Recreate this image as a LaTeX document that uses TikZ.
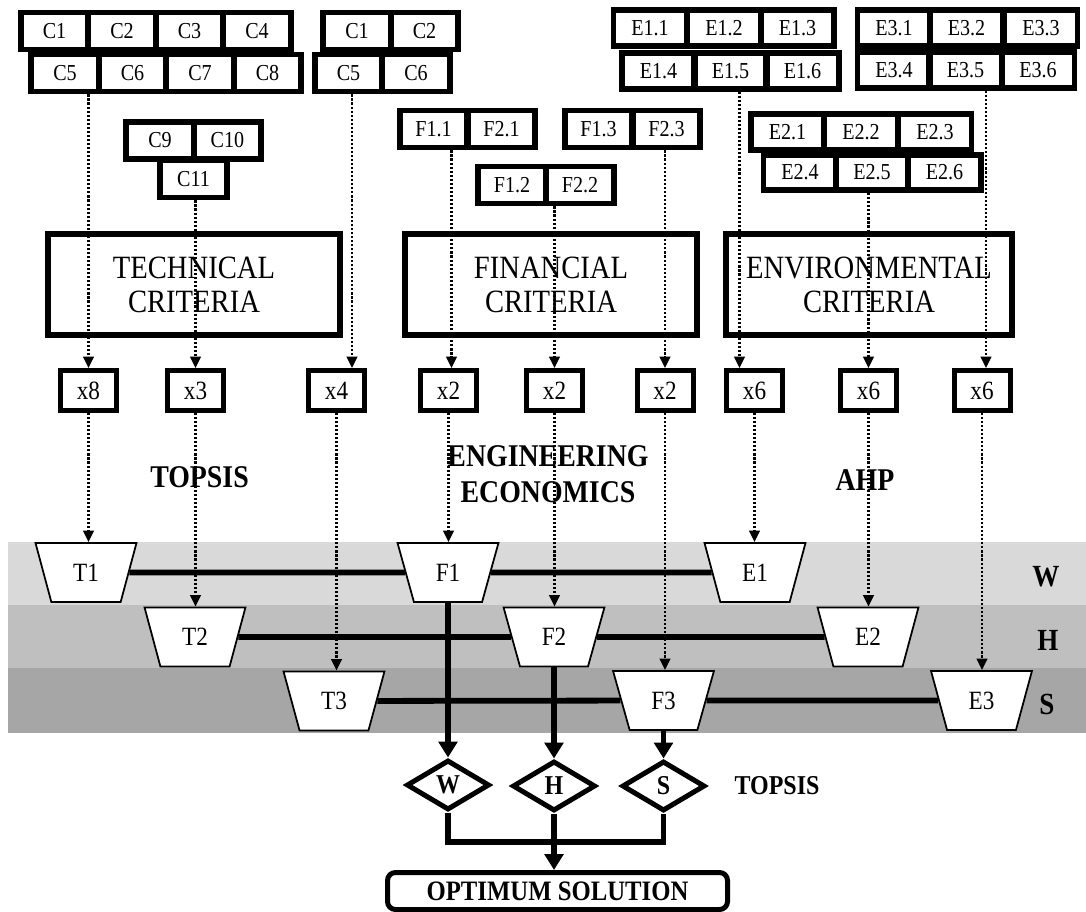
\documentclass[tikz,border=0pt]{standalone}
\usepackage{fontspec}
\setmainfont{Liberation Serif}[FakeStretch=0.88]
\usetikzlibrary{shapes.geometric,arrows.meta}
\newdimen\PX \PX=0.02cm
\definecolor{bandW}{RGB}{217,217,217}
\definecolor{bandH}{RGB}{191,191,191}
\definecolor{bandS}{RGB}{166,166,166}
\begin{document}
\begin{tikzpicture}[x=0.02cm,y=-0.02cm,
 cell/.style={draw, line width=5.8*\PX, minimum width=67.5*\PX, minimum height=37*\PX, inner sep=0pt, font=\fontsize{13}{15}\selectfont},
 ecell/.style={cell, minimum width=73*\PX, minimum height=35.5*\PX},
 xbox/.style={draw, line width=5*\PX, minimum width=56*\PX, minimum height=40*\PX, inner sep=0pt, font=\fontsize{15}{17}\selectfont},
 critbox/.style={draw, line width=6*\PX, minimum width=292*\PX, minimum height=101*\PX, align=center, inner sep=0pt, font=\fontsize{18.5}{19.5}\selectfont},
 trap/.style={trapezium, trapezium stretches=true, shape border rotate=180, trapezium left angle=71.3, trapezium right angle=71.3, minimum width=101*\PX, minimum height=59*\PX, draw, fill=white, line width=1pt, inner sep=0pt, font=\fontsize{15}{17}\selectfont},
 dia/.style={diamond, draw, fill=white, line width=5*\PX, minimum width=83*\PX, minimum height=50*\PX, inner sep=0pt, font=\bfseries\fontsize{15.5}{17}\selectfont},
 lab/.style={font=\bfseries\fontsize{18}{20.5}\selectfont, align=center, inner sep=0pt},
 optbox/.style={draw, rounded corners=8*\PX, line width=5*\PX, minimum width=340*\PX, minimum height=37*\PX, inner sep=0pt, font=\bfseries\fontsize{16}{18}\selectfont},
 dotarrow/.style={line width=1.3pt, dash pattern=on 1.2pt off 1.1pt, -{Triangle[length=6.5pt,width=6pt]}},
 thickline/.style={line width=3.3pt},
 thickarrow/.style={thickline, -{Triangle[length=9pt,width=10.5pt]}}
]
\useasboundingbox (0,0) rectangle (1086,912);
% bands
\fill[bandW] (8,542) rectangle (1086,605);
\fill[bandH] (8,605) rectangle (1086,668);
\fill[bandS] (8,668) rectangle (1086,733);
% technical cells
\node[cell] (C1) at (54.5,31) {C1};
\node[cell] (C2) at (122,31) {C2};
\node[cell] (C3) at (189.5,31) {C3};
\node[cell] (C4) at (257,31) {C4};
\node[cell] (C5) at (65,73) {C5};
\node[cell] (C6) at (132.5,73) {C6};
\node[cell] (C7) at (200,73) {C7};
\node[cell] (C8) at (267.5,73) {C8};
\node[cell] (C1b) at (357,31) {C1};
\node[cell] (C2b) at (424.5,31) {C2};
\node[cell] (C5b) at (348.5,73) {C5};
\node[cell] (C6b) at (416,73) {C6};
\node[cell] (C9) at (160,140.5) {C9};
\node[cell] (C10) at (227.5,140.5) {C10};
\node[cell] (C11) at (193.5,179) {C11};
% financial cells
\node[cell] (F11) at (433.5,129) {F1.1};
\node[cell] (F21) at (501.5,129) {F2.1};
\node[cell] (F13) at (598.5,129) {F1.3};
\node[cell] (F23) at (666.5,129) {F2.3};
\node[cell] (F12) at (512,185) {F1.2};
\node[cell] (F22) at (580,185) {F2.2};
% environmental cells
\node[ecell] (E11) at (650,28) {E1.1};
\node[ecell] (E12) at (724,28) {E1.2};
\node[ecell] (E13) at (797.5,28) {E1.3};
\node[ecell] (E14) at (658.5,71) {E1.4};
\node[ecell] (E15) at (730.5,71) {E1.5};
\node[ecell] (E16) at (802.5,71) {E1.6};
\node[ecell] (E31) at (894,28) {E3.1};
\node[ecell] (E32) at (966.5,28) {E3.2};
\node[ecell] (E33) at (1041,28) {E3.3};
\node[ecell] (E34) at (894,70) {E3.4};
\node[ecell] (E35) at (965.5,70) {E3.5};
\node[ecell] (E36) at (1038,70) {E3.6};
\node[ecell] (E21) at (787.5,132) {E2.1};
\node[ecell] (E22) at (861,132) {E2.2};
\node[ecell] (E23) at (935,132) {E2.3};
\node[ecell] (E24) at (800,172.5) {E2.4};
\node[ecell] (E25) at (872,172.5) {E2.5};
\node[ecell] (E26) at (944.5,172.5) {E2.6};
% criteria
\node[critbox] (tech) at (194,285) {TECHNICAL\\CRITERIA};
\node[critbox] (fin) at (551,285) {FINANCIAL\\CRITERIA};
\node[critbox, minimum width=286*\PX] (env) at (869,285) {ENVIRONMENTAL\\CRITERIA};
% multiplier boxes
\node[xbox] (x8) at (88.5,390.5) {x8};
\node[xbox] (x3) at (195.5,390.5) {x3};
\node[xbox] (x4) at (336.5,390.5) {x4};
\node[xbox] (x2a) at (448.5,390.5) {x2};
\node[xbox] (x2b) at (554.5,390.5) {x2};
\node[xbox] (x2c) at (665,390.5) {x2};
\node[xbox] (x6a) at (754.5,390.5) {x6};
\node[xbox] (x6b) at (868.5,390.5) {x6};
\node[xbox] (x6c) at (982,390.5) {x6};
% method labels
\node[lab] (topsisA) at (199.5,477) {TOPSIS};
\node[lab] (engec) at (548,474) {ENGINEERING\\ECONOMICS};
\node[lab] (ahp) at (865,480) {AHP};
% trapezoids
\node[trap] (T1) at (86,572.5) {T1};
\node[trap] (F1) at (448,572.5) {F1};
\node[trap] (E1) at (755,572.5) {E1};
\node[trap] (T2) at (195,637) {T2};
\node[trap] (F2) at (554,637) {F2};
\node[trap] (E2) at (868,637) {E2};
\node[trap] (T3) at (334,701) {T3};
\node[trap] (F3) at (663.5,700.5) {F3};
\node[trap] (E3) at (981.5,700.5) {E3};
% band labels
\node[lab, font=\bfseries\fontsize{17.5}{20}\selectfont] (bW) at (1046,577) {W};
\node[lab, font=\bfseries\fontsize{17.5}{20}\selectfont] (bH) at (1048,640) {H};
\node[lab, font=\bfseries\fontsize{17.5}{20}\selectfont] (bS) at (1047,704) {S};
% diamonds
\node[dia] (Wd) at (448,785) {W};
\node[dia] (Hd) at (554,786) {H};
\node[dia] (Sd) at (663.5,786) {S};
\node[lab, font=\bfseries\fontsize{15.5}{17}\selectfont] (topsisB) at (777,786) {TOPSIS};
\node[optbox] (opt) at (557.5,891) {OPTIMUM SOLUTION};
% horizontal thick lines
\draw[thickline] (T1) -- (F1) (F1) -- (E1);
\draw[thickline] (T2) -- (F2) (F2) -- (E2);
\draw[thickline] (T3) -- (F3) (F3) -- (E3);
% vertical thick arrows
\draw[thickarrow] (F1.south) -- (F1.south |- Wd.north);
\draw[thickarrow] (F2.south) -- (F2.south |- Hd.north);
\draw[thickarrow] (F3.south) -- (F3.south |- Sd.north);
\coordinate (jn) at (554,842);
\draw[thickline] (Wd.south) |- (jn) -| (Sd.south);
\draw[thickarrow] (Hd.south) -- (Hd.south |- opt.north);
% dotted arrows top
\coordinate (p4) at ([xshift=15.5*\PX]x4.north);
\coordinate (p2a) at ([xshift=3*\PX]x2a.north);
\coordinate (p6a) at ([xshift=-15*\PX]x6a.north);
\coordinate (p6c) at ([xshift=4*\PX]x6c.north);
\draw[dotarrow] (C5.south -| x8) -- (x8.north);
\draw[dotarrow] (C11.south -| x3) -- (x3.north);
\draw[dotarrow] (p4 |- C5b.south) -- (p4);
\draw[dotarrow] (p2a |- F11.south) -- (p2a);
\draw[dotarrow] (F22.south -| x2b) -- (x2b.north);
\draw[dotarrow] (F23.south -| x2c) -- (x2c.north);
\draw[dotarrow] (p6a |- E15.south) -- (p6a);
\draw[dotarrow] (E25.south -| x6b) -- (x6b.north);
\draw[dotarrow] (p6c |- E35.south) -- (p6c);
% dotted arrows bottom
\draw[dotarrow] (x8.south) -- (x8.south |- T1.north);
\draw[dotarrow] (x3.south) -- (x3.south |- T2.north);
\draw[dotarrow] (x4.south) -- (x4.south |- T3.north);
\draw[dotarrow] (x2a.south) -- (x2a.south |- F1.north);
\draw[dotarrow] (x2b.south) -- (x2b.south |- F2.north);
\draw[dotarrow] (x2c.south) -- (x2c.south |- F3.north);
\draw[dotarrow] (x6a.south) -- (x6a.south |- E1.north);
\draw[dotarrow] (x6b.south) -- (x6b.south |- E2.north);
\draw[dotarrow] (x6c.south) -- (x6c.south |- E3.north);
\end{tikzpicture}
\end{document}
